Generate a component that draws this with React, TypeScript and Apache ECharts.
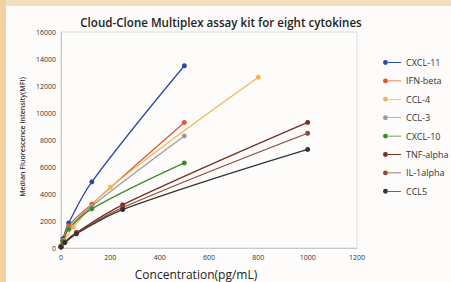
import React, { useEffect, useRef } from "react";
import * as echarts from "echarts";

const seriesNames = ["CXCL-11", "IFN-beta", "CCL-4", "CCL-3", "CXCL-10", "TNF-alpha", "IL-1alpha", "CCL5"];
const colors = ["#2a4aa8", "#e2582f", "#f2b552", "#9c9c9c", "#3d8a2c", "#7a2b22", "#8c4a3c", "#333333"];

const concA = [0, 7.8, 31.25, 125, 500];
const concB = [0, 12.5, 50, 200, 800];
const concC = [0, 15.6, 62.5, 250, 1000];

const cxcl11 = [150, 700, 1850, 4900, 13500];
const ifnBeta = [120, 560, 1650, 3250, 9300];
const ccl4 = [100, 560, 1550, 4500, 12650];
const ccl3 = [100, 500, 1450, 3100, 8300];
const cxcl10 = [100, 480, 1400, 2900, 6300];
const tnfAlpha = [80, 450, 1150, 3200, 9300];
const il1Alpha = [80, 420, 1100, 3000, 8500];
const ccl5 = [70, 400, 1050, 2850, 7300];

const xTicks = [0, 200, 400, 600, 800, 1000, 1200];
const yTicks = [0, 2000, 4000, 6000, 8000, 10000, 12000, 14000, 16000];

const seriesX = [concA, concA, concB, concA, concA, concC, concC, concC];
const seriesY = [cxcl11, ifnBeta, ccl4, ccl3, cxcl10, tnfAlpha, il1Alpha, ccl5];

const legendIcon = "path://M0.5,4a3.5,3.5 0 1,0 7,0a3.5,3.5 0 1,0 -7,0Z M7,3.4H26V4.6H7Z";

export default function App() {
  const ref = useRef<HTMLDivElement>(null);
  useEffect(() => {
    if (!ref.current) return;
    const chart = echarts.init(ref.current, null, { renderer: "svg" });
    const font = "'Open Sans', 'Noto Sans', sans-serif";
    chart.setOption({
      animation: false,
      backgroundColor: "#fdfcfa",
      textStyle: { fontFamily: font },
      graphic: [
        { type: "rect", left: 0, top: 0, shape: { width: 451, height: 6 }, style: { fill: "#f3dfbd" }, silent: true },
        { type: "rect", left: 0, top: 0, shape: { width: 6, height: 282 }, style: { fill: "#efd1a2" }, silent: true },
        {
          type: "text", x: 221, y: 22,
          style: { text: "Cloud-Clone Multiplex assay kit for eight cytokines", fill: "#222", font: `600 11.6px ${font}`, align: "center", verticalAlign: "middle" },
        },
        {
          type: "text", x: 196, y: 274,
          style: { text: "Concentration(pg/mL)", fill: "#222", font: `12px ${font}`, align: "center", verticalAlign: "middle" },
        },
        {
          type: "text", x: 22, y: 137, rotation: Math.PI / 2,
          style: { text: "Median Fluorescence Intensity(MFI)", fill: "#333", font: `600 7px ${font}`, align: "center", verticalAlign: "middle" },
        },
      ],
      grid: { left: 61, top: 32, right: 94, bottom: 34, show: true, borderColor: "#dcdcdc", borderWidth: 1, backgroundColor: "transparent" },
      legend: {
        orient: "vertical",
        left: 383,
        top: 58,
        padding: 0,
        itemWidth: 18,
        itemHeight: 6,
        itemGap: 9.4,
        icon: legendIcon,
        textStyle: { fontSize: 9, color: "#333", fontFamily: font },
        data: seriesNames,
      },
      xAxis: {
        type: "value",
        min: xTicks[0],
        max: xTicks[xTicks.length - 1],
        interval: 200,
        axisLine: { show: true, lineStyle: { color: "#c8c8c8" } },
        axisTick: { show: false },
        splitLine: { show: false },
        axisLabel: { fontSize: 7, color: "#333", margin: 6, fontFamily: font, formatter: (v: number) => String(v) },
      },
      yAxis: {
        type: "value",
        min: yTicks[0],
        max: yTicks[yTicks.length - 1],
        interval: 2000,
        axisLine: { show: true, lineStyle: { color: "#c8c8c8" } },
        axisTick: { show: false },
        splitLine: { show: false },
        axisLabel: { fontSize: 7, color: "#333", margin: 5, fontFamily: font, formatter: (v: number) => String(v) },
      },
      series: seriesNames.map((name, i) => ({
        name,
        type: "line",
        smooth: 0.35,
        symbol: "circle",
        symbolSize: 5,
        legendIcon: legendIcon,
        color: colors[i],
        lineStyle: { width: 1.3, color: colors[i] },
        itemStyle: { color: colors[i] },
        data: seriesX[i].map((x, j) => [x, seriesY[i][j]]),
      })),
    });
    return () => chart.dispose();
  }, []);
  return <div ref={ref} style={{ position: "fixed", left: 0, top: 0, width: 451, height: 282 }} />;
}
